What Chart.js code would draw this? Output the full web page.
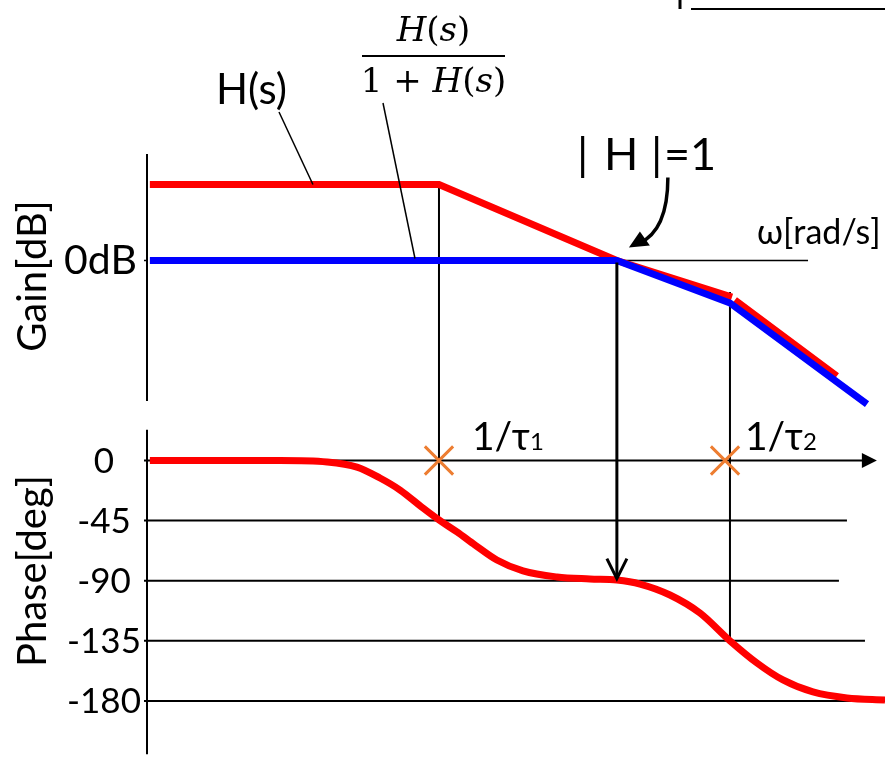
<!DOCTYPE html>
<html>
<head>
<meta charset="utf-8">
<script src="https://cdn.jsdelivr.net/npm/chart.js@4.4.1/dist/chart.umd.min.js"></script>
<style>
  html, body { margin: 0; padding: 0; background: #fff; }
  #wrap { position: relative; width: 885px; height: 757px; }
</style>
</head>
<body>
<div id="wrap"><canvas id="bode" width="885" height="757"></canvas></div>
<script>
// Open loop H(s): gain asymptotes in dB against angular frequency (rad/s)
const gainOmega  = [0.103, 10, 167, 1033, 1060, 1081, 5430];
const gainOpenDb = [20, 20, 0, -9.6, null, -10.4, -30.4];

// Closed loop H/(1+H): gain asymptotes
const closedOmega = [0.103, 167, 1000, 8750];
const closedDb    = [0, 0, -11.2, -37.8];

// Phase of H(s) in degrees
const phaseOmega = [0.103, 0.81, 1.70, 2.73, 3.93, 5.40, 7.76, 10, 13.3, 17.7, 25.0, 37.8,
                    64.7, 109, 167, 241, 387, 622, 1000, 1533, 2313, 3720, 6370, 11630];
const phaseDeg   = [0, 0, -1.1, -4.9, -13.1, -22.1, -35.6, -44.5, -53.5, -63.3, -74.5, -82.7,
                    -87.2, -88.7, -89.5, -92.5, -100.7, -114.2, -135, -151.6, -164.3, -173.3, -177.8, -179.3];

// Phase axis ticks
const phaseTicks      = [0, -45, -90, -135, -180];
const phaseTickLabels = ['0', '-45', '-90', '-135', '-180'];

// Corner frequencies 1/τ1, 1/τ2 and the gain crossover |H| = 1
const cornerOmega     = [10, 1000];
const cornerMarkOmega = [10, 925];
const cornerIndex     = ['1', '2'];
const crossoverOmega  = 167;

// ---------------------------------------------------------------------------
const SANS  = 'Lato, "Noto Sans", sans-serif';
const SERIF = '"DejaVu Serif", "Liberation Serif", serif';
const RED = '#ff0000', BLUE = '#0000ff', ORANGE = '#ed7d31';

const pts = (xs, ys) => xs.map((x, i) => ({ x, y: ys[i] }));

function seg(ctx, x1, y1, x2, y2, w) {
  ctx.lineWidth = w;
  ctx.beginPath();
  ctx.moveTo(x1, y1);
  ctx.lineTo(x2, y2);
  ctx.stroke();
}

function runs(ctx, parts, x, y) {
  let cx = x;
  parts.forEach(([text, font]) => {
    ctx.font = font;
    ctx.fillText(text, cx, y);
    cx += ctx.measureText(text).width;
  });
  return cx - x;
}

function runsWidth(ctx, parts) {
  let w = 0;
  parts.forEach(([text, font]) => { ctx.font = font; w += ctx.measureText(text).width; });
  return w;
}

const bodeDecor = {
  id: 'bodeDecor',
  beforeDatasetsDraw(chart) {
    const { ctx } = chart;
    const xs = chart.scales.x, g = chart.scales.gain, p = chart.scales.phase;
    const X = v => xs.getPixelForValue(v);
    const G = v => g.getPixelForValue(v);
    const P = v => p.getPixelForValue(v);
    const ax = xs.left - 1;
    // right-hand ends of the phase grid lines (rad/s)
    const gridEnd = [9460, 6370, 5610, 8470, 11630];

    ctx.save();
    ctx.strokeStyle = '#000';
    ctx.fillStyle = '#000';
    ctx.lineCap = 'butt';

    // vertical axes
    seg(ctx, ax, G(28), ax, G(-37), 2);
    seg(ctx, ax - 3, G(0), ax, G(0), 1.5);
    seg(ctx, ax, P(23), ax, P(-220), 2);

    // phase grid lines
    phaseTicks.forEach((t, i) => seg(ctx, ax - 3, P(t), X(gridEnd[i]), P(t), 2));
    // arrow head closing the 0 deg line (frequency axis)
    const tip = X(10230), y0 = P(0);
    ctx.beginPath();
    ctx.moveTo(tip, y0);
    ctx.lineTo(tip - 15, y0 - 7.5);
    ctx.lineTo(tip - 15, y0 + 7.5);
    ctx.closePath();
    ctx.fill();

    // guides at the corner frequencies
    seg(ctx, X(cornerOmega[0]), G(19.5), X(cornerOmega[0]), P(-45), 2);
    seg(ctx, X(cornerOmega[1]), G(-8.3), X(cornerOmega[1]), P(-135), 2);

    // 0 dB reference beyond the crossover
    seg(ctx, X(crossoverOmega), G(0), X(3440), G(0), 1.5);
    ctx.restore();
  },
  afterDatasetsDraw(chart) {
    const { ctx } = chart;
    const xs = chart.scales.x, g = chart.scales.gain, p = chart.scales.phase;
    const X = v => xs.getPixelForValue(v);
    const G = v => g.getPixelForValue(v);
    const P = v => p.getPixelForValue(v);

    ctx.save();
    ctx.strokeStyle = '#000';
    ctx.fillStyle = '#000';
    ctx.textBaseline = 'alphabetic';

    // crossover arrow down to the phase curve
    const cx = X(crossoverOmega);
    const yTip = P(-88.5);
    ctx.lineCap = 'butt';
    seg(ctx, cx, G(0) + 2, cx, yTip - 1, 3);
    ctx.lineJoin = 'miter';
    ctx.lineWidth = 3;
    ctx.beginPath();
    ctx.moveTo(cx - 10, yTip - 20);
    ctx.lineTo(cx, yTip);
    ctx.lineTo(cx + 10, yTip - 20);
    ctx.stroke();

    // curved pointer from the |H|=1 note to the crossover point
    const ox = cx, oy = G(0);
    ctx.lineWidth = 3.5;
    ctx.beginPath();
    ctx.moveTo(ox + 51, oy - 83);
    ctx.bezierCurveTo(ox + 51, oy - 45, ox + 40, oy - 25, ox + 22, oy - 17);
    ctx.stroke();
    ctx.beginPath();
    ctx.moveTo(ox + 12, oy - 13);
    ctx.lineTo(ox + 23, oy - 29);
    ctx.lineTo(ox + 33, oy - 15);
    ctx.closePath();
    ctx.fill();

    // leader lines from the curve names
    seg(ctx, 279, 112, X(1.36), G(20), 1.5);
    seg(ctx, 383, 103, X(6.84), G(0) - 2, 1.5);

    // cropped frame remains at the top right
    seg(ctx, 680, 0, 680, 9, 3);
    seg(ctx, 691, 9, 885, 9, 2);

    // curve names
    ctx.textAlign = 'left';
    ctx.font = `42px ${SANS}`;
    ctx.fillText('H(s)', 216, 104);

    const it = `italic 34px ${SERIF}`, up = `34px ${SERIF}`;
    const num = [['H', it], ['(', up], ['s', it], [')', up]];
    const den = [['1', up], [' + ', up], ['H', it], ['(', up], ['s', it], [')', up]];
    const fc = 433.5;
    runs(ctx, num, fc - runsWidth(ctx, num) / 2, 41);
    runs(ctx, den, fc - runsWidth(ctx, den) / 2, 92);
    seg(ctx, 362, 56, 505, 56, 2);

    // gain panel labels
    ctx.font = `41px ${SANS}`;
    ctx.fillText('0dB', 64, G(0) + 14);
    ctx.font = `45px ${SANS}`;
    ctx.fillText('|', 577, 170);
    ctx.fillText('H', 604, 170);
    ctx.fillText('|', 651, 170);
    ctx.fillText('=1', 664, 170);
    ctx.font = `34px ${SANS}`;
    ctx.fillText('ω[rad/s]', 757, 244);

    // corner frequency labels
    cornerOmega.forEach((w, i) => {
      const lx = i === 0 ? X(w) + 33 : X(w) + 15;
      const parts = [['1/τ', `39px ${SANS}`], [cornerIndex[i], `24px ${SANS}`]];
      runs(ctx, parts, lx, P(0) - 11);
    });

    // phase tick labels
    ctx.textAlign = 'center';
    ctx.font = `35px ${SANS}`;
    phaseTicks.forEach((t, i) => ctx.fillText(phaseTickLabels[i], 104, P(t) + 12));

    // axis titles
    ctx.font = `40px ${SANS}`;
    ctx.save();
    ctx.translate(46, 276);
    ctx.rotate(-Math.PI / 2);
    ctx.fillText('Gain[dB]', 0, 0);
    ctx.restore();
    ctx.save();
    ctx.translate(46, 571);
    ctx.rotate(-Math.PI / 2);
    ctx.fillText('Phase[deg]', 0, 0);
    ctx.restore();

    ctx.restore();
  }
};

new Chart(document.getElementById('bode'), {
  type: 'line',
  data: {
    datasets: [
      {
        label: 'H/(1+H)',
        data: pts(closedOmega, closedDb),
        yAxisID: 'gain',
        borderColor: BLUE,
        borderWidth: 7,
        pointRadius: 0,
        tension: 0,
        order: 1
      },
      {
        label: 'H(s)',
        data: pts(gainOmega, gainOpenDb),
        yAxisID: 'gain',
        borderColor: RED,
        borderWidth: 7,
        pointRadius: 0,
        tension: 0,
        spanGaps: false,
        order: 2
      },
      {
        label: 'phase H(s)',
        data: pts(phaseOmega, phaseDeg),
        yAxisID: 'phase',
        borderColor: RED,
        borderWidth: 7,
        pointRadius: 0,
        cubicInterpolationMode: 'monotone',
        order: 2
      },
      {
        label: 'corners',
        data: cornerMarkOmega.map(w => ({ x: w, y: 0 })),
        yAxisID: 'phase',
        showLine: false,
        pointStyle: 'crossRot',
        pointRadius: 20,
        pointBorderWidth: 3,
        pointBorderColor: ORANGE,
        pointBackgroundColor: ORANGE,
        clip: false,
        order: 0
      }
    ]
  },
  options: {
    responsive: false,
    animation: false,
    devicePixelRatio: 1,
    layout: { autoPadding: false, padding: { left: 148, right: 0, top: 0, bottom: 0 } },
    plugins: { legend: { display: false }, tooltip: { enabled: false } },
    scales: {
      x: { type: 'logarithmic', min: 0.1, max: 11630, display: false },
      gain: { type: 'linear', min: -130.66, max: 68.55, display: false },
      phase: { type: 'linear', min: -222.0, max: 344.8, display: false }
    }
  },
  plugins: [bodeDecor]
});
</script>
</body>
</html>
